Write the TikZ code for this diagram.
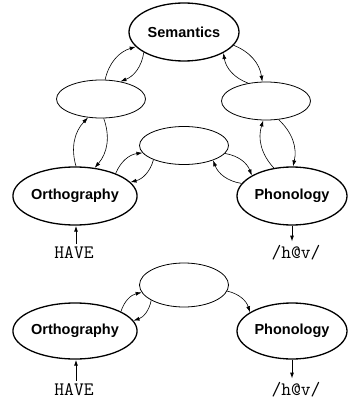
\documentclass[tikz,border=0pt]{standalone}
\usepackage{fontspec}
\setmainfont{Liberation Sans}
\usetikzlibrary{arrows.meta,shapes.geometric}
\begin{document}
\begin{tikzpicture}[x=1pt,y=-1pt,
 big/.style={ellipse,draw,line width=1.3pt,minimum width=110pt,minimum height=58pt,inner sep=0pt,font=\fontsize{14.5}{17}\selectfont\bfseries},
 hid/.style={ellipse,draw,line width=0.8pt,minimum width=89pt,minimum height=38pt,inner sep=0pt},
 lbl/.style={font=\fontsize{19}{21}\selectfont\ttfamily,inner sep=0pt},
 arr/.style={-{Latex[length=6pt,width=4pt]},line width=0.6pt},
 bl/.style={arr,bend left=30}]
\useasboundingbox (0,0) rectangle (350,401);
% top diagram
\node[big] (sem) at (184,32) {Semantics};
\node[hid] (L) at (101,99) {};
\node[hid] (R) at (266,101) {};
\node[hid] (M) at (184,145.5) {};
\node[big] (O) at (75,196) {Orthography};
\node[big] (P) at (292,196) {Phonology};
\node[lbl] (have) at (74,253) {HAVE};
\node[lbl] (hav) at (296,253) {/h@v/};
\draw[bl] (L.78) to (sem.197);
\draw[bl] (sem.207) to (L.42);
\draw[bl] (sem.345) to (R.101);
\draw[bl] (R.135) to (sem.332);
\draw[bl] (L.278) to (O.55);
\draw[bl] (O.88) to (L.235);
\draw[bl] (R.304) to (P.88);
\draw[bl] (P.123) to (R.262);
\draw[bl] (O.29) to (M.190);
\draw[bl] (M.205) to (O.14);
\draw[bl] (M.349) to (P.153);
\draw[bl] (P.166) to (M.333);
\draw[arr,line width=1pt] ([xshift=2pt]have.north) ++(0,-3) -- ([xshift=1pt]O.south);
\draw[arr,line width=1pt] (P.south) -- ++(0,16);
% bottom diagram
\node[hid,minimum height=44pt] (M2) at (184,285) {};
\node[big,minimum height=56pt] (O2) at (75,331) {Orthography};
\node[big,minimum height=56pt] (P2) at (292,331) {Phonology};
\node[lbl] (have2) at (74,390) {HAVE};
\node[lbl] (hav2) at (296,390) {/h@v/};
\draw[bl] (O2.23) to (M2.190);
\draw[bl] (M2.205) to (O2.10);
\draw[bl] (M2.352) to (P2.156);
\draw[arr,line width=1pt] ([xshift=2pt]have2.north) ++(0,-3) -- ([xshift=1pt]O2.south);
\draw[arr,line width=1pt] (P2.south) -- ++(0,19);
\end{tikzpicture}
\end{document}
